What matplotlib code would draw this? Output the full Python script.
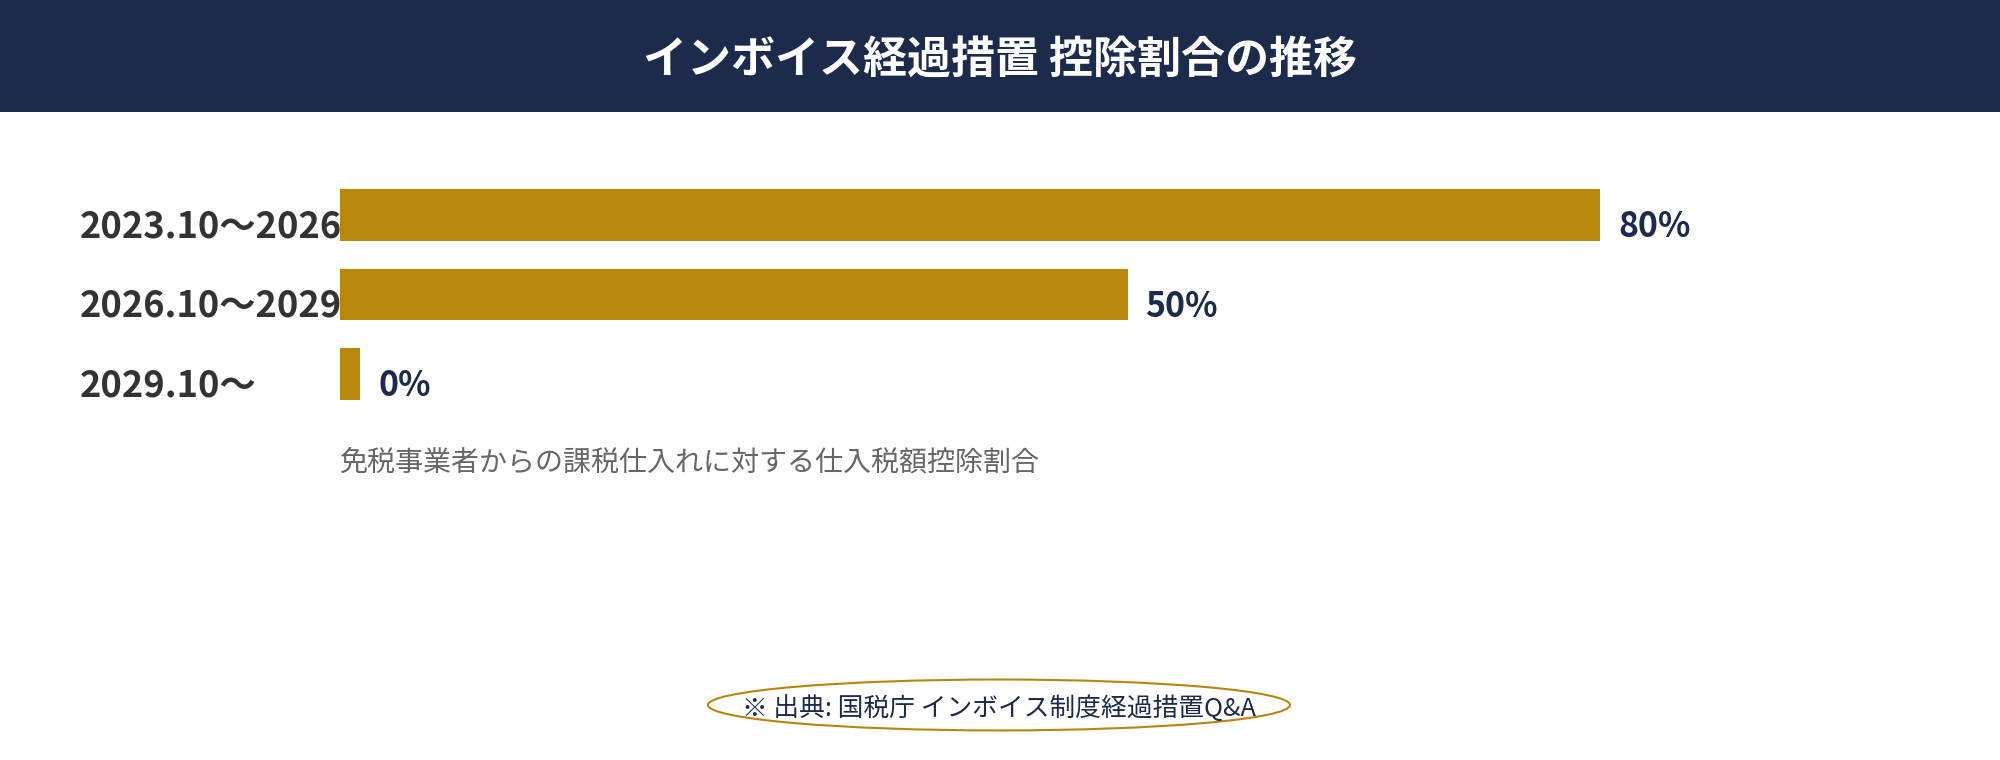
import matplotlib
matplotlib.use('Agg')
import matplotlib.pyplot as plt
from matplotlib.patches import Rectangle, Ellipse
from matplotlib.transforms import blended_transform_factory

plt.rcParams['font.family'] = ['Noto Sans CJK JP', 'DejaVu Sans']

# data
periods = ['2023.10〜2026', '2026.10〜2029', '2029.10〜']
rates = [80, 50, 0]
rate_labels = ['80%', '50%', '0%']
title = 'インボイス経過措置 控除割合の推移'
note = '免税事業者からの課税仕入れに対する仕入税額控除割合'
source = '※ 出典: 国税庁 インボイス制度経過措置Q&A'

navy = '#1c2a4b'
gold = '#b8860b'
min_bar = 1.3  # keep a 0% bar visible

fig = plt.figure(figsize=(20, 7.6), dpi=100)

# header band
fig.patches.append(Rectangle((0, 0.8526), 1, 0.1474, transform=fig.transFigure,
                             facecolor=navy, edgecolor='none', zorder=0))
fig.text(0.5, 0.92, title, color='white', fontsize=31.7, fontweight='bold',
         ha='center', va='center')

ax = fig.add_axes([0.17, 0.4556, 0.7875, 0.3138])
ypos = list(range(len(periods)))
widths = [max(r, min_bar) for r in rates]
ax.barh(ypos, widths, height=0.654, color=gold)
ax.set_xlim(0, 100)
ax.set_ylim(2.5, -0.5)
ax.axis('off')

lab_tr = blended_transform_factory(fig.transFigure, ax.transData)
for y, p, w, lab in zip(ypos, periods, widths, rate_labels):
    ax.text(0.04, y + 0.15, p, transform=lab_tr, fontsize=26.1, fontweight='bold',
            color='#333333', ha='left', va='center')
    ax.annotate(lab, xy=(w, y + 0.15), xytext=(13, 0), textcoords='offset points',
                fontsize=24.3, fontweight='bold', color=navy, ha='left', va='center')

fig.text(0.17, 0.392, note, color='#666666', fontsize=20.2, ha='left', va='center')

# source in an ellipse
fig.patches.append(Ellipse((0.4995, 0.0724), 0.291, 0.067, transform=fig.transFigure,
                           facecolor='none', edgecolor=gold, linewidth=1.5))
fig.text(0.4995, 0.068, source, color=navy, fontsize=18.5, ha='center', va='center')

plt.savefig('out.png', dpi=100)
